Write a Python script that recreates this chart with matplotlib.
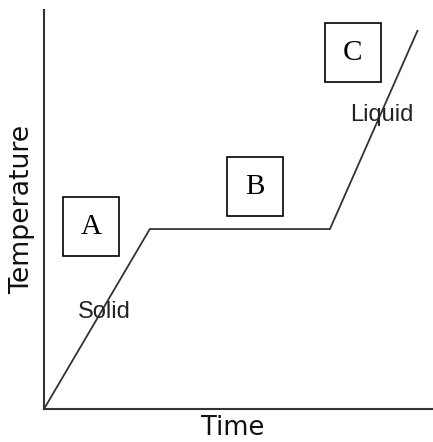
import matplotlib.pyplot as plt
from matplotlib.patches import Rectangle

# heating curve: time vs temperature
time = [0, 2.72, 7.35, 9.61]
temperature = [0, 4.51, 4.51, 9.5]

# region labels (boxed letters) and phase labels
region_labels = ["A", "B", "C"]
phase_labels = ["Solid", "Liquid"]

# layout: box corners (x0, y0, x1, y1) in data units
box_pos = [(0.49, 3.83, 1.93, 5.31), (4.70, 4.84, 6.14, 6.32), (7.22, 8.20, 8.66, 9.67)]
phase_pos = [(1.54, 2.43), (8.69, 7.37)]

fig = plt.figure(figsize=(4.33, 4.42), dpi=100)
ax = fig.add_axes([44 / 433, 33 / 442, 389 / 433, 399 / 442])

ax.plot(time, temperature, color="#333333", lw=1.3, solid_capstyle="butt")

for lab, (x0, y0, x1, y1) in zip(region_labels, box_pos):
    ax.add_patch(Rectangle((x0, y0), x1 - x0, y1 - y0, fill=False,
                           edgecolor="black", lw=1.2))
    ax.text((x0 + x1) / 2, (y0 + y1) / 2 - 0.02, lab, ha="center", va="center",
            fontsize=21, family="Liberation Serif")

for lab, (x, y) in zip(phase_labels, phase_pos):
    ax.text(x, y, lab, ha="center", va="center", fontsize=17,
            family="Liberation Sans", color="#222222")

ax.set_xlim(0, 10)
ax.set_ylim(0, 10)
ax.set_xticks([])
ax.set_yticks([])
for s in ["top", "right"]:
    ax.spines[s].set_visible(False)
for s in ["left", "bottom"]:
    ax.spines[s].set_color("#333333")
    ax.spines[s].set_linewidth(1.5)

fig.text(233 / 433, 1 - 428 / 442, "Time", ha="center", va="center",
         fontsize=18.5, color="#111111")
fig.text(22 / 433, 1 - 209 / 442, "Temperature", ha="center", va="center",
         rotation=90, fontsize=19.3, color="#111111")

fig.savefig("out.png", dpi=100)
